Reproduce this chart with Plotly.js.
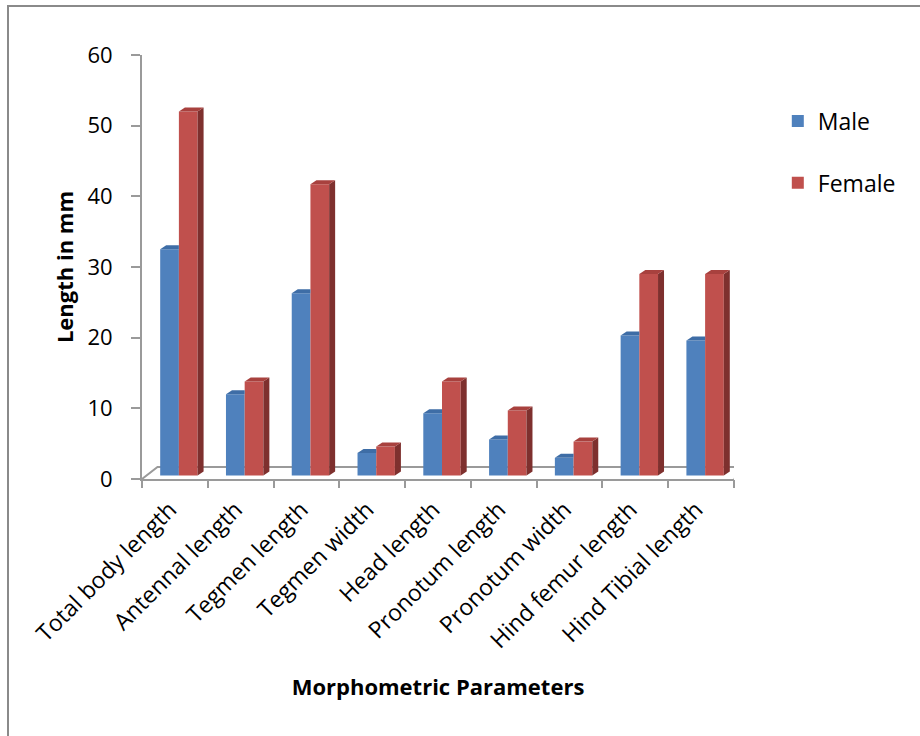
<!DOCTYPE html>
<html>
<head>
<meta charset="utf-8">
<script src="https://cdn.plot.ly/plotly-3.0.1.min.js"></script>
<style>
  html, body { margin: 0; padding: 0; background: #ffffff; }
  #chart { width: 920px; height: 736px; }
</style>
</head>
<body>
<div id="chart"></div>
<script>
// Morphometric measurements (mm) of male and female specimens
const categories = [
  "Total body length", "Antennal length", "Tegmen length", "Tegmen width",
  "Head length", "Pronotum length", "Pronotum width", "Hind femur length",
  "Hind Tibial length"
];
const maleValues   = [32.0, 11.5, 25.8, 3.2, 8.8, 5.1, 2.5, 19.8, 19.1];
const femaleValues = [51.5, 13.3, 41.2, 4.1, 13.3, 9.2, 4.8, 28.5, 28.5];
const seriesNames  = ["Male", "Female"];
const yTicks       = [0, 10, 20, 30, 40, 50, 60];

// Plot-area geometry used to turn pixel-sized 3D effects into axis units
const PLOT_W = 592, PLOT_H = 424;
const Y_MAX = 60;
const pxX = PLOT_W / categories.length;   // px per category
const pxY = PLOT_H / Y_MAX;               // px per mm

const barW   = 18.7 / pxX;   // width of one bar
const shift  = 4 / pxX;      // bars sit slightly right of the slot centre (mid-depth of floor)
const lift   = 3.5 / pxY;    // ...and slightly above the front floor edge
const depthX = 6 / pxX;      // bar depth, horizontal
const depthY = 4 / pxY;      // bar depth, vertical
const floorX = 15.5 / pxX;   // floor depth
const floorY = 12 / pxY;

const FRONT = ["#4F81BD", "#C0504D"];
const TOP   = ["#3E6DA6", "#A8413E"];
const SIDE  = ["#34598A", "#7E302E"];

const idx = categories.map((_, i) => i);
const series = [maleValues, femaleValues];

const traces = [];

// Front faces (these also feed the legend)
series.forEach((vals, s) => {
  traces.push({
    type: "bar",
    name: seriesNames[s],
    legendgroup: seriesNames[s],
    x: idx.map(i => i + shift + (s === 0 ? -barW / 2 : barW / 2)),
    y: vals,
    base: vals.map(() => lift),
    width: vals.map(() => barW),
    customdata: categories,
    textposition: "none",
    marker: { color: FRONT[s], line: { width: 0 } },
    hovertemplate: "%{customdata}: %{y} mm<extra>" + seriesNames[s] + "</extra>"
  });
});

function poly(xs, ys, color) {
  traces.push({
    type: "scatter",
    mode: "lines",
    x: xs.concat([xs[0]]),
    y: ys.concat([ys[0]]),
    fill: "toself",
    fillcolor: color,
    line: { width: 0, color: color },
    hoverinfo: "skip",
    showlegend: false
  });
}

// Top and side faces, computed from each bar's value
idx.forEach(i => {
  const m = maleValues[i], f = femaleValues[i];
  // male bar
  {
    const x0 = i + shift - barW, x1 = i + shift;
    const t = lift + m;
    if (f >= m) {
      // right part of the top is hidden behind the taller female bar
      poly([x0, x0 + depthX, x1, x1], [t, t + depthY, t + depthY, t], TOP[0]);
    } else {
      poly([x0, x0 + depthX, x1 + depthX, x1], [t, t + depthY, t + depthY, t], TOP[0]);
    }
  }
  // female bar
  {
    const x0 = i + shift, x1 = i + shift + barW;
    const t = lift + f;
    poly([x1, x1 + depthX, x1 + depthX, x1], [lift, lift + depthY, t + depthY, t], SIDE[1]);
    poly([x0, x0 + depthX, x1 + depthX, x1], [t, t + depthY, t + depthY, t], TOP[1]);
  }
});

// Boundary tick marks between categories on an overlaid axis
const boundaries = categories.map((_, i) => i - 0.5).concat([categories.length - 0.5]);
traces.push({
  type: "scatter", mode: "markers", x: [0], y: [0], xaxis: "x2",
  marker: { opacity: 0 }, hoverinfo: "skip", showlegend: false
});

const xMin = -0.5, xMax = categories.length - 0.5;
const axisGrey = "#9a9a9a";
const FONT = "'Open Sans', 'Noto Sans', sans-serif";

const layout = {
  width: 920,
  height: 736,
  paper_bgcolor: "#ffffff",
  plot_bgcolor: "rgba(0,0,0,0)",
  margin: { l: 142, r: 186, t: 55, b: 257 },
  barmode: "overlay",
  showlegend: true,
  font: { family: FONT, size: 22, color: "#000000" },
  xaxis: {
    type: "linear",
    range: [xMin, xMax],
    tickmode: "array",
    tickvals: idx,
    ticktext: categories,
    tickangle: -45,
    ticks: "",
    ticklabelstandoff: 6,
    ticklabelshift: -5,
    showgrid: false,
    zeroline: false,
    showline: true,
    linecolor: axisGrey,
    linewidth: 2,
    tickfont: { family: FONT, size: 23 },
    title: {
      text: "<b>Morphometric Parameters</b>",
      font: { family: FONT, size: 22 },
      standoff: 26
    }
  },
  xaxis2: {
    type: "linear",
    overlaying: "x",
    side: "bottom",
    anchor: "y",
    range: [xMin, xMax],
    tickmode: "array",
    tickvals: boundaries,
    ticks: "outside",
    ticklen: 8,
    tickwidth: 2,
    tickcolor: axisGrey,
    showticklabels: false,
    showgrid: false,
    zeroline: false,
    showline: false
  },
  yaxis: {
    range: [0, Y_MAX],
    tickmode: "array",
    tickvals: yTicks,
    ticks: "outside",
    ticklen: 9,
    tickwidth: 2,
    tickcolor: axisGrey,
    ticklabelstandoff: 14,
    showgrid: false,
    zeroline: false,
    showline: true,
    linecolor: axisGrey,
    linewidth: 2,
    tickfont: { family: FONT, size: 22 },
    title: {
      text: "<b>Length in mm</b>",
      font: { family: FONT, size: 22 },
      standoff: 8
    }
  },
  legend: {
    x: 1.074,
    xanchor: "left",
    y: 0.895,
    yanchor: "top",
    font: { family: FONT, size: 23 },
    tracegroupgap: 29,
    bgcolor: "rgba(0,0,0,0)"
  },
  shapes: [
    // 3D floor outline behind the bars
    {
      type: "path",
      xref: "x", yref: "y",
      layer: "below",
      path: "M" + xMin + ",0 L" + (xMin + floorX) + "," + floorY +
            " L" + (xMax + floorX) + "," + floorY + " L" + xMax + ",0",
      line: { color: axisGrey, width: 2 }
    },
    // chart frame
    {
      type: "rect",
      xref: "paper", yref: "paper",
      x0: (8 - 142) / PLOT_W, x1: (930 - 142) / PLOT_W,
      y0: (479 - 750) / PLOT_H, y1: (479 - 6) / PLOT_H,
      line: { color: "#8a8a8a", width: 2 },
      layer: "below"
    }
  ]
};

Plotly.newPlot("chart", traces, layout, { displayModeBar: false, staticPlot: true });
</script>
</body>
</html>
